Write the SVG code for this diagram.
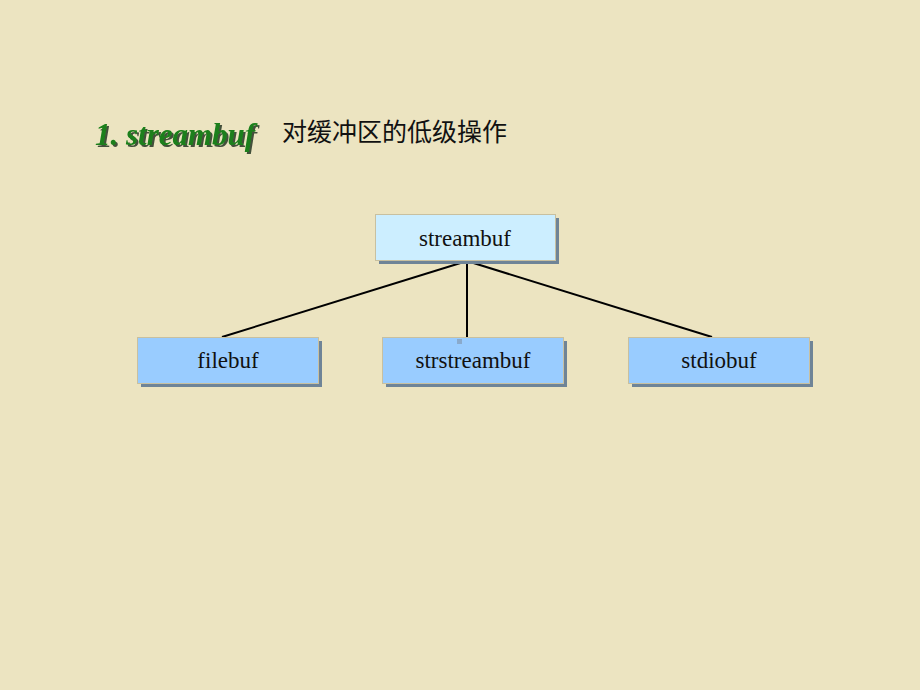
<svg xmlns="http://www.w3.org/2000/svg" width="920" height="690" viewBox="0 0 920 690">
<defs>
<filter id="ts" x="-5%" y="-20%" width="115%" height="150%">
<feDropShadow dx="2" dy="2" stdDeviation="0.6" flood-color="#1e2a1e" flood-opacity="0.8"/>
</filter>
</defs>
<style>
.shadow{fill:#6f8497}
.box{stroke:#c8c0a0;stroke-width:1}
.lbl{font-family:"Liberation Serif","Times New Roman",serif;font-size:23px;fill:#111;text-anchor:middle}
.conn{stroke:#000;stroke-width:2;fill:none}
</style>
<rect width="920" height="690" fill="#ECE4C1"/>
<g id="title">
<text x="95" y="145" font-family="Liberation Serif,serif" font-size="31" font-weight="bold" font-style="italic" fill="#1a7f1a" filter="url(#ts)">1. streambuf</text>
<text x="282" y="141" font-family="Liberation Sans,Noto Sans CJK SC,sans-serif" font-size="25" fill="#111">对缓冲区的低级操作</text>
</g>
<g id="connectors">
<line class="conn" x1="467" y1="261" x2="222" y2="337"/>
<line class="conn" x1="467" y1="261" x2="467" y2="337"/>
<line class="conn" x1="467" y1="261" x2="712" y2="337"/>
</g>
<g id="streambuf">
<rect class="shadow" x="379" y="218" width="180" height="46"/>
<rect class="box" x="375.5" y="214.5" width="180" height="46" fill="#CCEEFF"/>
<text class="lbl" x="465" y="246">streambuf</text>
</g>
<g id="filebuf">
<rect class="shadow" x="141" y="341" width="181" height="46"/>
<rect class="box" x="137.5" y="337.5" width="181" height="46" fill="#99CCFF"/>
<text class="lbl" x="228" y="368">filebuf</text>
</g>
<g id="strstreambuf">
<rect class="shadow" x="386" y="341" width="181" height="46"/>
<rect class="box" x="382.5" y="337.5" width="181" height="46" fill="#99CCFF"/>
<rect x="457" y="339" width="5" height="5" fill="#8aaacc"/>
<text class="lbl" x="473" y="368">strstreambuf</text>
</g>
<g id="stdiobuf">
<rect class="shadow" x="632" y="341" width="181" height="46"/>
<rect class="box" x="628.5" y="337.5" width="181" height="46" fill="#99CCFF"/>
<text class="lbl" x="719" y="368">stdiobuf</text>
</g>
</svg>
